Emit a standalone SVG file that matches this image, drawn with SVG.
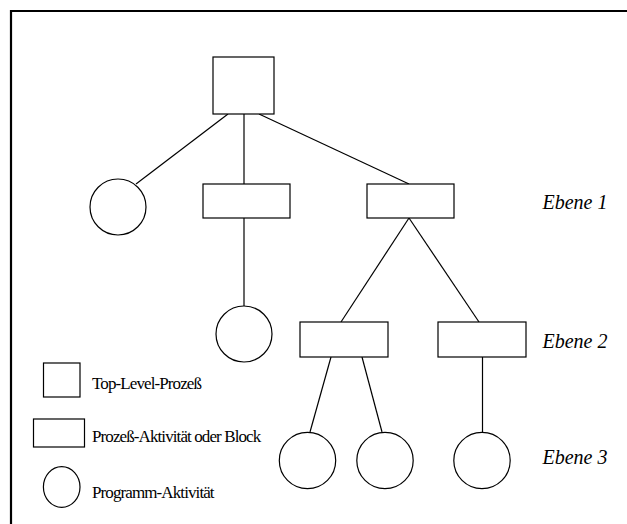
<svg xmlns="http://www.w3.org/2000/svg" width="627" height="524" viewBox="0 0 627 524">
<style>
.s{fill:#fff;stroke:#000;stroke-width:1.2}
.c line{stroke:#000;stroke-width:1.2}
.lg{font-family:"Liberation Serif","Times New Roman",serif;font-size:17px;letter-spacing:-0.9px;fill:#000}
.eb{font-family:"Liberation Serif","Times New Roman",serif;font-size:20px;font-style:italic;fill:#000}
</style>
<rect x="0" y="0" width="627" height="524" fill="#fff"/>
<path d="M11,524 V11 H627" fill="none" stroke="#000" stroke-width="2.2"/>
<g id="connectors" class="c">
<line x1="228" y1="114" x2="136" y2="184"/>
<line x1="244" y1="114" x2="244" y2="184"/>
<line x1="259" y1="114" x2="409" y2="184"/>
<line x1="244" y1="218" x2="244" y2="306"/>
<line x1="409" y1="218" x2="341" y2="322"/>
<line x1="409" y1="218" x2="479" y2="322"/>
<line x1="331" y1="357" x2="310" y2="432"/>
<line x1="362" y1="357" x2="382" y2="432"/>
<line x1="482.5" y1="357" x2="482.5" y2="432"/>
</g>
<g id="top"><rect class="s" x="213" y="57" width="61" height="57"/></g>
<g id="c1"><circle class="s" cx="118" cy="207" r="28"/></g>
<g id="b1"><rect class="s" x="203" y="184" width="87" height="34"/></g>
<g id="b2"><rect class="s" x="367" y="184" width="87" height="34"/></g>
<g id="c2"><circle class="s" cx="244" cy="334" r="28"/></g>
<g id="b3"><rect class="s" x="300" y="322" width="88" height="35"/></g>
<g id="b4"><rect class="s" x="438" y="322" width="88" height="35"/></g>
<g id="c3"><circle class="s" cx="307.5" cy="460.5" r="28.2"/></g>
<g id="c4"><circle class="s" cx="385" cy="460.5" r="28.2"/></g>
<g id="c5"><circle class="s" cx="482" cy="460.5" r="28.2"/></g>
<g id="ebenen">
<text class="eb" x="542.5" y="209">Ebene 1</text>
<text class="eb" x="542.5" y="347.5">Ebene 2</text>
<text class="eb" x="542.5" y="463.5">Ebene 3</text>
</g>
<g id="legend">
<rect class="s" x="43.5" y="363" width="36.5" height="34"/>
<text class="lg" x="92" y="389">Top-Level-Prozeß</text>
<rect class="s" x="33.5" y="419" width="51" height="28"/>
<text class="lg" x="92" y="441.5">Prozeß-Aktivität oder Block</text>
<ellipse class="s" cx="61.7" cy="487" rx="18.3" ry="20.3"/>
<text class="lg" x="92" y="497.5">Programm-Aktivität</text>
</g>
</svg>
